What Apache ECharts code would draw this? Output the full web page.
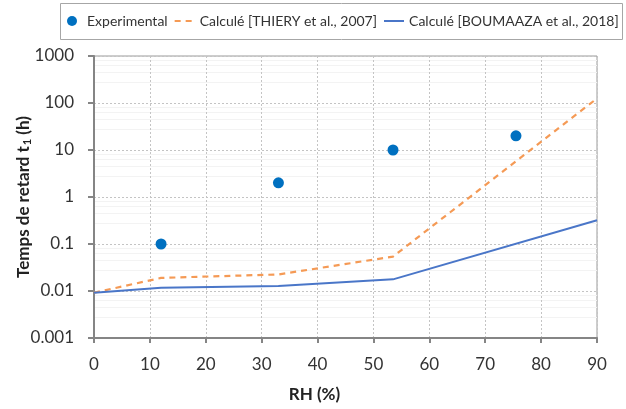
<!DOCTYPE html>
<html>
<head>
<meta charset="utf-8">
<script src="https://cdn.jsdelivr.net/npm/echarts@6/dist/echarts.min.js"></script>
<style>
  html, body { margin: 0; padding: 0; background: #fff; }
  #chart { width: 626px; height: 409px; }
</style>
</head>
<body>
<div id="chart"></div>
<script>
// experimental points
var rh_exp = [12, 33, 53.5, 75.5];
var t1_exp = [0.1, 2, 10, 20];

// calculated curves (same RH abscissas)
var rh_calc = [0, 12, 33, 53.5, 90];
var t1_thiery = [0.0092, 0.019, 0.0225, 0.054, 125];
var t1_boumaaza = [0.0092, 0.0117, 0.0128, 0.0177, 0.32];

var names = ["Experimental", "Calculé [THIERY et al., 2007]", "Calculé [BOUMAAZA et al., 2018]"];

function pairs(xs, ys) {
    var out = [];
    for (var i = 0; i < xs.length; i++) {
        out.push([xs[i], ys[i]]);
    }
    return out;
}

var font = "Lato";
var myChart = echarts.init(document.getElementById("chart"), null, {renderer: "canvas"});

var option = {
    backgroundColor: "#fff",
    animation: false,
    textStyle: {fontFamily: font},
    graphic: [{
        type: "rect",
        shape: {x: 60.5, y: 3.5, width: 562, height: 36},
        style: {fill: "none", stroke: "#a6a6a6", lineWidth: 1},
        silent: true
    }],
    legend: {
        left: 67,
        top: 14,
        width: 558,
        itemGap: 6,
        itemWidth: 20,
        itemHeight: 10,
        padding: 0,
        textStyle: {fontFamily: font, fontSize: 14, color: "#333"},
        data: [
            {name: names[0], icon: "circle", itemStyle: {color: "#0070c0", opacity: 1}},
            {name: names[1], itemStyle: {opacity: 0}},
            {name: names[2], itemStyle: {opacity: 0}}
        ]
    },
    grid: {
        left: 94,
        right: 29,
        top: 56,
        bottom: 71,
        outerBoundsMode: "none",
        containLabel: false,
        show: true,
        borderColor: "#9a9a9a",
        borderWidth: 1
    },
    xAxis: {
        type: "value",
        min: 0,
        max: 90,
        interval: 10,
        name: "RH (%)",
        nameLocation: "middle",
        nameGap: 48,
        nameMoveOverlap: false,
        nameTextStyle: {fontFamily: font, fontSize: 17, fontWeight: "bold", color: "#222", padding: [0, 62, 0, 0]},
        axisLine: {lineStyle: {color: "#858585", width: 2}},
        axisTick: {show: true, length: 5, lineStyle: {color: "#858585", width: 2}},
        axisLabel: {fontFamily: font, fontSize: 17, color: "#333", margin: 18},
        splitLine: {show: true, lineStyle: {color: "#c4c4c4", type: [2, 2], width: 1}}
    },
    yAxis: {
        type: "log",
        logBase: 10,
        min: 0.001,
        max: 1000,
        interval: 1,
        name: "{a|Temps de retard t}{s|1}{a| (h)}",
        nameLocation: "middle",
        nameRotate: 90,
        nameGap: 61,
        nameMoveOverlap: false,
        nameTextStyle: {
            fontFamily: font, fontSize: 17, fontWeight: "bold", color: "#222",
            rich: {
                a: {fontFamily: font, fontSize: 17, fontWeight: "bold", color: "#222"},
                s: {fontFamily: font, fontSize: 11, fontWeight: "bold", color: "#222", verticalAlign: "bottom", padding: [8, 0, 0, 1]}
            }
        },
        axisLine: {show: true, lineStyle: {color: "#858585", width: 2}},
        axisTick: {show: true, length: 6, lineStyle: {color: "#858585", width: 2}},
        axisLabel: {
            fontFamily: font, fontSize: 17, color: "#333", margin: 20,
            formatter: function (v) { return String(parseFloat(Number(v).toPrecision(3))); }
        },
        splitLine: {show: true, lineStyle: {color: "#c4c4c4", type: [2, 2], width: 1}},
        minorTick: {show: false, splitNumber: 5},
        minorSplitLine: {show: true, lineStyle: {color: "#f3f3f3", width: 1}}
    },
    series: [
        {
            name: names[0],
            type: "scatter",
            symbol: "circle",
            symbolSize: 11,
            itemStyle: {color: "#0070c0", opacity: 1},
            data: pairs(rh_exp, t1_exp),
            z: 5
        },
        {
            name: names[1],
            type: "line",
            showSymbol: false,
            symbol: "none",
            lineStyle: {color: "#f59a55", width: 2.2, type: [6, 5]},
            itemStyle: {color: "#f59a55"},
            data: pairs(rh_calc, t1_thiery)
        },
        {
            name: names[2],
            type: "line",
            showSymbol: false,
            symbol: "none",
            lineStyle: {color: "#4a76c8", width: 2},
            itemStyle: {color: "#4a76c8"},
            data: pairs(rh_calc, t1_boumaaza)
        }
    ]
};
myChart.setOption(option);
</script>
</body>
</html>
